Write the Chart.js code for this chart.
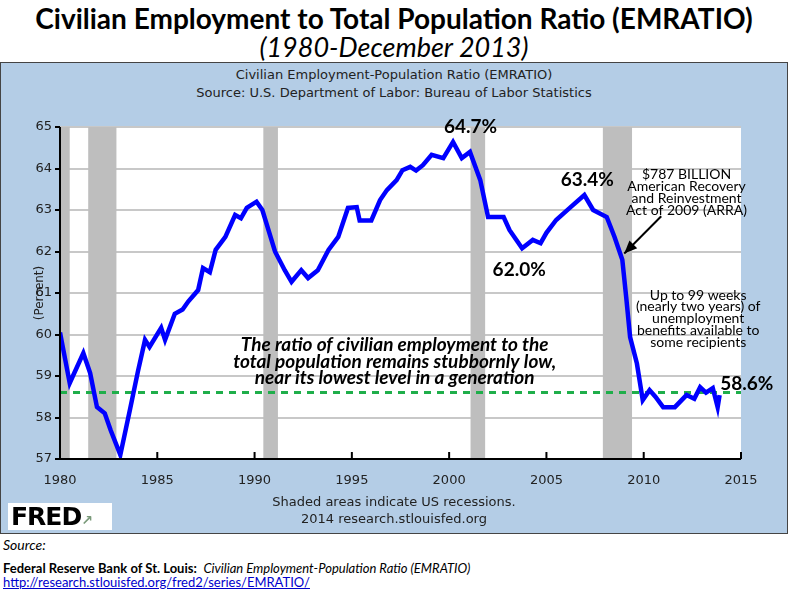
<!DOCTYPE html>
<html lang="en">
<head>
<meta charset="UTF-8" />
<title>EMRATIO</title>
<script src="https://cdn.jsdelivr.net/npm/chart.js"></script>
<style>
  body { margin:0; width:788px; height:591px; background:#fff; position:relative; overflow:hidden; font-family:"DejaVu Sans", sans-serif; }
  .abs { position:absolute; white-space:nowrap; }
  #title { left:0; width:788px; top:1px; text-align:center; font:bold 28px Lato, sans-serif; color:#000; }
  #sub { left:0; width:788px; top:30px; text-align:center; font:italic 27px Lato, sans-serif; color:#000; }
  #frame { left:0; top:62px; width:786px; height:470px; background:#b4cde6; border:1px solid #444; }
  .ft { left:0; width:788px; text-align:center; font-size:13px; color:#222; }
  #fred { left:8px; top:503px; width:104px; height:27px; background:#fff; font:bold 25px "DejaVu Sans", sans-serif; line-height:27px; padding-left:3px; box-sizing:border-box; letter-spacing:-1px; }
  .src { left:3px; font:14px Lato, sans-serif; color:#000; }
</style>
</head>
<body>
<div id="title" class="abs">Civilian Employment to Total Population Ratio (EMRATIO)</div>
<div id="sub" class="abs">(1980-December 2013)</div>
<div id="frame" class="abs"></div>
<div class="abs ft" style="top:67px">Civilian Employment-Population Ratio (EMRATIO)</div>
<div class="abs ft" style="top:85px">Source: U.S. Department of Labor: Bureau of Labor Statistics</div>
<div class="abs" style="left:0;top:62px;width:788px;height:471px"><canvas id="c" width="788" height="471"></canvas></div>
<div class="abs ft" style="top:494px">Shaded areas indicate US recessions.</div>
<div class="abs ft" style="top:511px">2014 research.stlouisfed.org</div>
<div id="fred" class="abs">FRED<span style="font-size:14px;color:#7a9a7a">&#x2197;</span></div>
<div class="abs src" style="top:536px;font-style:italic">Source:</div>
<div class="abs src" style="top:560px;font-size:13px"><b>Federal Reserve Bank of St. Louis:</b>&nbsp; <i>Civilian Employment-Population Ratio (EMRATIO)</i></div>
<div class="abs src" style="top:574px;font-size:13px;color:#0000cc;text-decoration:underline">http://research.stlouisfed.org/fred2/series/EMRATIO/</div>
<script>
// Samples (year, percent)
const years = [1980.0,1980.5,1981.2,1981.55,1981.9,1982.3,1982.6,1983.1,1983.6,1984.0,1984.37,1984.6,1985.2,1985.4,1985.9,1986.3,1986.6,1987.1,1987.35,1987.7,1988.0,1988.5,1989.0,1989.3,1989.6,1990.1,1990.4,1991.05,1991.55,1991.9,1992.4,1992.75,1993.25,1993.8,1994.3,1994.8,1995.25,1995.4,1996.0,1996.45,1996.8,1997.3,1997.6,1998.0,1998.3,1998.65,1999.1,1999.7,2000.2,2000.65,2001.07,2001.6,2002.0,2002.8,2003.1,2003.75,2004.3,2004.7,2005.0,2005.5,2006.2,2006.95,2007.4,2008.1,2008.5,2008.9,2009.1,2009.3,2009.65,2009.95,2010.3,2010.6,2011.0,2011.6,2012.2,2012.6,2012.9,2013.2,2013.55,2013.8,2013.9];
const ratio = [60.05,58.83,59.55,59.07,58.25,58.1,57.7,57.1,58.2,59.1,59.87,59.7,60.16,59.87,60.5,60.6,60.8,61.07,61.6,61.5,62.04,62.35,62.88,62.8,63.05,63.2,63.0,62.0,61.55,61.27,61.55,61.36,61.55,62.04,62.35,63.05,63.07,62.75,62.75,63.24,63.48,63.72,63.96,64.04,63.95,64.08,64.33,64.25,64.64,64.25,64.4,63.72,62.83,62.83,62.52,62.08,62.28,62.2,62.45,62.76,63.05,63.36,63.0,62.83,62.35,61.8,60.9,59.94,59.3,58.42,58.66,58.5,58.25,58.25,58.54,58.45,58.73,58.6,58.71,58.25,58.54];
const recessions = [[1980.0,1980.5],[1981.45,1982.9],[1990.45,1991.2],[2001.1,2001.85],[2007.9,2009.4]];
const yTicks = [57,58,59,60,61,62,63,64,65];
const xTicks = [1980,1985,1990,1995,2000,2005,2010,2015];
const refLevel = 58.6;

const overlay = {
  id: 'overlay',
  beforeDatasetsDraw(chart) {
    const {ctx, chartArea:a, scales:{x}} = chart;
    ctx.save();
    ctx.fillStyle = '#bebebe';
    recessions.forEach(([s, e]) => {
      const x0 = x.getPixelForValue(s), x1 = x.getPixelForValue(e);
      ctx.fillRect(x0, a.top, x1 - x0, a.bottom - a.top);
    });
    ctx.restore();
  },
  afterDraw(chart) {
    const {ctx, chartArea:a, scales:{x, y}} = chart;
    ctx.save();
    // axis lines and inner ticks
    ctx.strokeStyle = '#000'; ctx.lineWidth = 2;
    ctx.beginPath();
    ctx.moveTo(a.left, a.top); ctx.lineTo(a.left, a.bottom); ctx.lineTo(a.right, a.bottom);
    xTicks.forEach(t => { const px = x.getPixelForValue(t); ctx.moveTo(px, a.bottom); ctx.lineTo(px, a.bottom - 7); });
    ctx.stroke();
    ctx.textAlign = 'center'; ctx.fillStyle = '#000';
    const txt = (s, vx, vy, font) => { ctx.font = font; ctx.fillText(s, x.getPixelForValue(vx), y.getPixelForValue(vy)); };
    const big = 'bold 19px Lato, sans-serif';
    ctx.textBaseline = 'middle';
    txt('64.7%', 2001.1, 65.0, big);
    txt('63.4%', 2007.1, 63.72, big);
    txt('62.0%', 2003.6, 61.55, big);
    txt('58.6%', 2015.3, 58.82, big);
    const small = '14px Lato, sans-serif';
    ['$787 BILLION','American Recovery','and Reinvestment','Act of 2009 (ARRA)'].forEach((s, i) => txt(s, 2012.2, 63.85 - i * 0.29, small));
    ['Up to 99 weeks','(nearly two years) of','unemployment','benefits available to','some recipients'].forEach((s, i) => txt(s, 2012.8, 60.95 - i * 0.285, small));
    const it = 'italic bold 19px Lato, sans-serif';
    ['The ratio of civilian employment to the','total population remains stubbornly low,','near its lowest level in a generation'].forEach((s, i) => txt(s, 1997.2, 59.75 - i * 0.4, it));
    // arrow
    const ax0 = x.getPixelForValue(2010.9), ay0 = y.getPixelForValue(62.85);
    const ax1 = x.getPixelForValue(2009.0), ay1 = y.getPixelForValue(61.95);
    ctx.strokeStyle = '#000'; ctx.lineWidth = 2;
    ctx.beginPath(); ctx.moveTo(ax0, ay0); ctx.lineTo(ax1, ay1); ctx.stroke();
    const ang = Math.atan2(ay1 - ay0, ax1 - ax0);
    ctx.beginPath();
    ctx.moveTo(ax1, ay1);
    ctx.lineTo(ax1 - 14 * Math.cos(ang - 0.4), ay1 - 14 * Math.sin(ang - 0.4));
    ctx.lineTo(ax1 - 14 * Math.cos(ang + 0.4), ay1 - 14 * Math.sin(ang + 0.4));
    ctx.closePath(); ctx.fill();
    // y axis title
    ctx.translate(40, y.getPixelForValue(61));
    ctx.rotate(-Math.PI / 2);
    ctx.font = '12px "DejaVu Sans", sans-serif'; ctx.fillStyle = '#222';
    ctx.fillText('(Percent)', 0, 0);
    ctx.restore();
  }
};

const bgPlugin = {
  id: 'plotbg',
  beforeDraw(chart) {
    const {ctx, chartArea:a} = chart;
    ctx.save(); ctx.fillStyle = '#fff';
    ctx.fillRect(a.left, a.top, a.right - a.left, a.bottom - a.top);
    ctx.restore();
  }
};

new Chart(document.getElementById('c'), {
  type: 'line',
  data: {
    datasets: [
      { data: years.map((v, i) => ({x: v, y: ratio[i]})), borderColor: '#0000ff', borderWidth: 4.5, pointRadius: 0, tension: 0 },
      { data: [{x: 1980, y: refLevel}, {x: 2015, y: refLevel}], borderColor: '#1fae4a', borderWidth: 3, borderDash: [7, 6], pointRadius: 0 }
    ]
  },
  options: {
    responsive: false, animation: false,
    layout: { padding: { top: 65, right: 47, bottom: 44, left: 0 } },
    plugins: { legend: { display: false }, tooltip: { enabled: false } },
    scales: {
      x: {
        type: 'linear', min: 1980, max: 2015,
        afterBuildTicks: s => { s.ticks = xTicks.map(v => ({value: v})); },
        afterFit: s => { s.height = 30; },
        grid: { display: false }, border: { display: false },
        ticks: { font: { family: 'DejaVu Sans', size: 13 }, color: '#222', padding: 6, callback: v => String(v) }
      },
      y: {
        min: 57, max: 65,
        afterBuildTicks: s => { s.ticks = yTicks.map(v => ({value: v})); },
        afterFit: s => { s.width = 60; },
        grid: { color: '#c8c8c8', lineWidth: 2, tickColor: '#000', tickLength: 5 },
        border: { display: false },
        ticks: { font: { family: 'DejaVu Sans', size: 13 }, color: '#222', padding: 3 }
      }
    }
  },
  plugins: [bgPlugin, overlay]
});
</script>
</body>
</html>
